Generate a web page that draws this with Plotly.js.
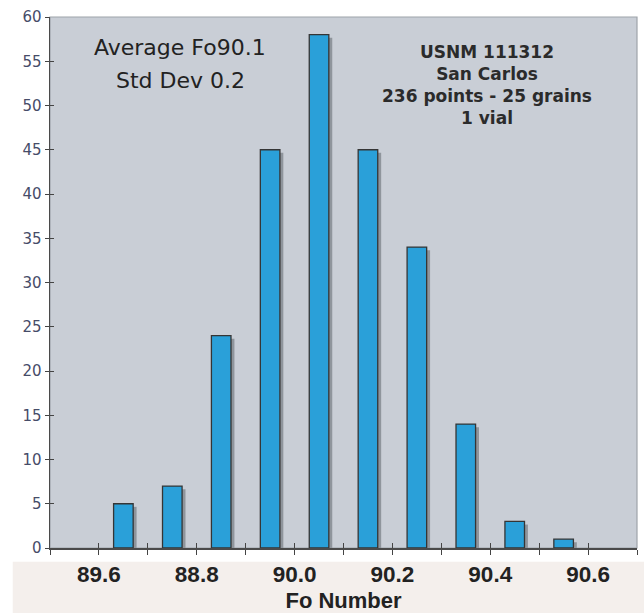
<!DOCTYPE html>
<html>
<head>
<meta charset="utf-8">
<script src="https://cdn.plot.ly/plotly-3.0.1.min.js"></script>
<style>html,body{margin:0;padding:0;background:#fff;}#chart{width:644px;height:613px;}</style>
</head>
<body>
<div id="chart"></div>
<script>
// Data
const binIndex = [1, 2, 3, 4, 5, 6, 7, 8, 9, 10];
const counts   = [5, 7, 24, 45, 58, 45, 34, 14, 3, 1];
// Category boundaries (tick marks) and the printed tick labels
const boundaries = [-0.5, 0.5, 1.5, 2.5, 3.5, 4.5, 5.5, 6.5, 7.5, 8.5, 9.5, 10.5, 11.5];
const labelVals  = [0.5, 2.5, 4.5, 6.5, 8.5, 10.5];
const labelText  = ['89.6', '88.8', '90.0', '90.2', '90.4', '90.6'];
const yTicks = [0, 5, 10, 15, 20, 25, 30, 35, 40, 45, 50, 55, 60];

const shadowDrop = 0.35;
const shadow = {
  type: 'bar', x: binIndex, y: counts.map(v => v - shadowDrop),
  width: 0.4, offset: -0.13,
  marker: {color: '#8f959c', line: {width: 0}},
  hoverinfo: 'skip', showlegend: false
};
const bars = {
  type: 'bar', x: binIndex, y: counts,
  width: 0.4, offset: -0.2,
  marker: {color: '#2aa0d9', line: {color: '#353535', width: 1.3}},
  showlegend: false
};
// empty traces so the overlay axes (crossing ticks, label axis) get drawn
const tickHolder  = {type: 'scatter', x: [], y: [], xaxis: 'x2', yaxis: 'y2', showlegend: false, hoverinfo: 'skip'};
const labelHolder = {type: 'scatter', x: [], y: [], xaxis: 'x3', yaxis: 'y', showlegend: false, hoverinfo: 'skip'};

const xr = [-0.5, 11.5];
const layout = {
  width: 644, height: 613,
  margin: {l: 50, r: 7, t: 17, b: 65},
  paper_bgcolor: '#ffffff',
  plot_bgcolor: '#c9ced6',
  barmode: 'overlay',
  showlegend: false,
  xaxis: {
    range: xr, tickmode: 'array', tickvals: boundaries, showticklabels: false,
    ticks: 'outside', ticklen: 5, tickcolor: '#444', tickwidth: 1,
    showline: true, linecolor: '#4a4a4a', linewidth: 1.5,
    showgrid: false, zeroline: false, fixedrange: true
  },
  xaxis2: {
    overlaying: 'x', anchor: 'y2', range: xr, tickmode: 'array', tickvals: boundaries,
    showticklabels: false, ticks: 'inside', ticklen: 5, tickcolor: '#444', tickwidth: 1,
    showline: false, showgrid: false, zeroline: false
  },
  xaxis3: {
    overlaying: 'x', anchor: 'y', range: xr, tickmode: 'array',
    tickvals: labelVals, ticktext: labelText, ticks: '',
    tickfont: {family: 'Liberation Sans, Arial, sans-serif', size: 22.5, color: '#222222', weight: 'bold'},
    ticklabelstandoff: 10,
    title: {text: 'Fo Number', standoff: 9,
            font: {family: 'Liberation Sans, Arial, sans-serif', size: 22, color: '#222222', weight: 'bold'}},
    showline: false, showgrid: false, zeroline: false
  },
  yaxis: {
    range: [0, 60], tickmode: 'array', tickvals: yTicks,
    ticks: 'outside', ticklen: 4, tickcolor: '#444', tickwidth: 1,
    tickfont: {family: 'DejaVu Sans, Verdana, sans-serif', size: 15, color: '#464c68'},
    showline: true, linecolor: '#4a4a4a', linewidth: 1.5,
    showgrid: false, zeroline: false, fixedrange: true
  },
  yaxis2: {
    overlaying: 'y', anchor: 'x2', side: 'left', range: [0, 60], tickmode: 'array', tickvals: yTicks,
    showticklabels: false, ticks: 'inside', ticklen: 4, tickcolor: '#444', tickwidth: 1,
    showline: false, showgrid: false, zeroline: false
  },
  shapes: [
    {type: 'rect', xref: 'paper', yref: 'paper', x0: -0.0635, x1: 1.012, y0: -0.0258, y1: -0.125,
     fillcolor: '#f4efec', line: {width: 0}, layer: 'below'},
    {type: 'rect', xref: 'paper', yref: 'paper', x0: 0, x1: 1, y0: 0, y1: 1,
     fillcolor: 'rgba(0,0,0,0)', line: {color: '#9ea3aa', width: 1.2}, layer: 'below'}
  ],
  annotations: [
    {xref: 'paper', yref: 'paper', x: 0.2215, y: 0.942, text: 'Average Fo90.1', showarrow: false,
     xanchor: 'center', yanchor: 'middle',
     font: {family: 'DejaVu Sans, sans-serif', size: 22, color: '#222222'}},
    {xref: 'paper', yref: 'paper', x: 0.2215, y: 0.880, text: 'Std Dev 0.2', showarrow: false,
     xanchor: 'center', yanchor: 'middle',
     font: {family: 'DejaVu Sans, sans-serif', size: 22, color: '#222222'}},
    {xref: 'paper', yref: 'paper', x: 0.7445, y: 0.8713,
     text: '<b>USNM 111312</b><br><b>San Carlos</b><br><b>236 points - 25 grains</b><br><b>1 vial</b>',
     showarrow: false, xanchor: 'center', yanchor: 'middle', align: 'center',
     font: {family: 'DejaVu Sans, Verdana, sans-serif', size: 17, color: '#2b2b2b'}}
  ]
};

Plotly.newPlot('chart', [shadow, bars, tickHolder, labelHolder], layout, {staticPlot: true, displayModeBar: false});
</script>
</body>
</html>
